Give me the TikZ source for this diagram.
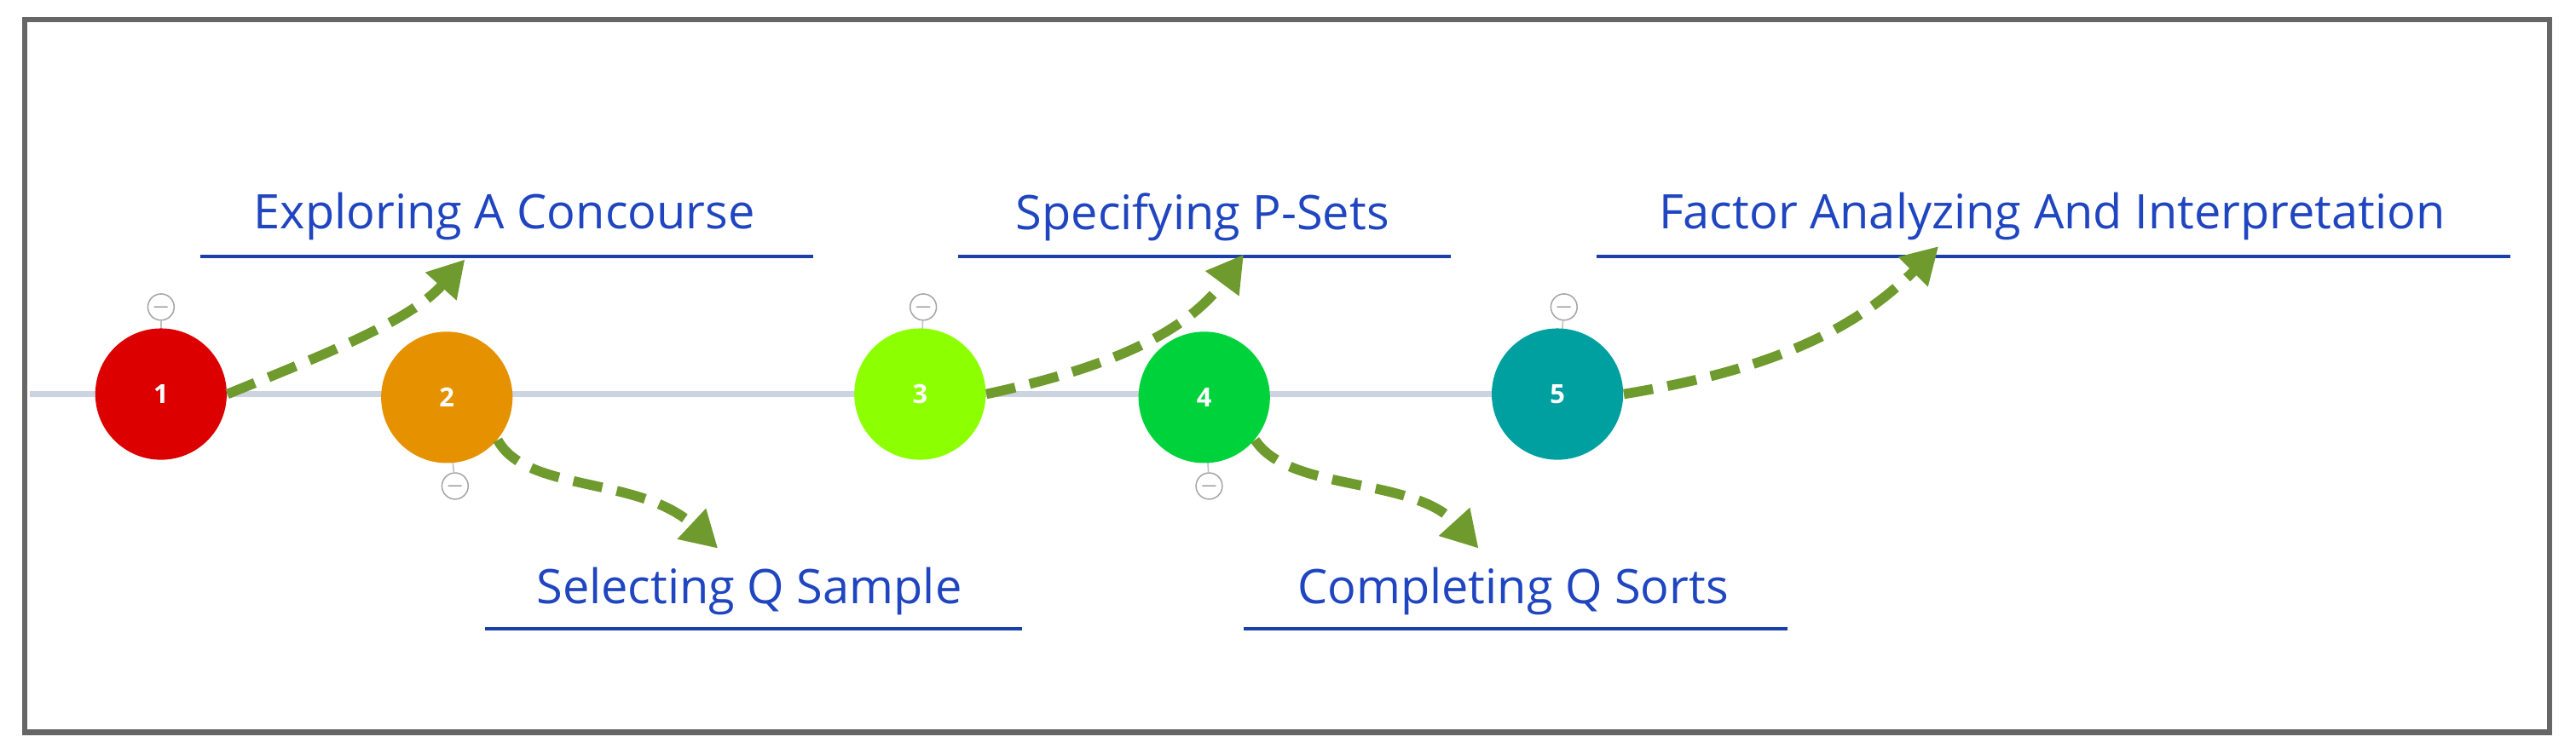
\documentclass[tikz,border=0pt]{standalone}
\usepackage{fontspec}
\setmainfont{Open Sans}
\usetikzlibrary{arrows.meta}
\definecolor{lblue}{HTML}{1F45C0}
\definecolor{ublue}{HTML}{1A3FA8}
\definecolor{arr}{HTML}{6F9A2E}
\definecolor{c1}{RGB}{220,0,0}
\definecolor{c2}{RGB}{230,145,0}
\definecolor{c3}{RGB}{140,255,0}
\definecolor{c4}{RGB}{0,210,60}
\definecolor{c5}{RGB}{0,160,160}
\definecolor{axis}{RGB}{205,212,225}
\begin{document}
\begin{tikzpicture}[x=0.5pt,y=-0.5pt,
  stepnode/.style={circle,minimum size=40pt,inner sep=0pt,text=white,font=\bfseries\fontsize{8}{9}\selectfont},
  mini/.style={circle,draw=gray!70,minimum size=8pt,inner sep=0pt,fill=white,font=\fontsize{6}{6}\selectfont,text=gray},
  lbl/.style={text=lblue,font=\fontsize{14.5}{16}\selectfont,inner sep=0pt},
  ul/.style={draw=ublue,line width=1pt},
  ar/.style={draw=arr,line width=3pt,dash pattern=on 9pt off 4.5pt,-{Triangle[length=11pt,width=12pt]}}]
\useasboundingbox (0,0) rectangle (1568,459);
\draw[gray!80!black,line width=1.6pt] (15,12) rectangle (1552,446);
\coordinate (ls) at (18,240); \coordinate (le) at (910,240);
\draw[axis,line width=2pt] (ls) -- (le);
\foreach \n/\x/\y/\m/\my in {1/98/240/98/187, 3/560/240/562/187, 5/948/240/952/187, 2/272/242/277/296, 4/733/242/736/296}{
  \node[mini] (m\n) at (\m,\my) {$-$};
  \draw[gray!50] (m\n) -- (\x,\y);
}
\node[stepnode,fill=c1] (n1) at (98,240) {1};
\node[stepnode,fill=c2] (n2) at (272,242) {2};
\node[stepnode,fill=c3] (n3) at (560,240) {3};
\node[stepnode,fill=c4] (n4) at (733,242) {4};
\node[stepnode,fill=c5] (n5) at (948,240) {5};
\node[lbl] (t1) at (307,132) {Exploring A Concourse};
\node[lbl] (t3) at (732,132) {Specifying P-Sets};
\node[lbl] (t5) at (1249,132) {Factor Analyzing And Interpretation};
\node[lbl] (t2) at (456,360) {Selecting Q Sample};
\node[lbl] (t4) at (921,360) {Completing Q Sorts};
\draw[ul] (122,156) -- (495,156);
\draw[ul] (583,156) -- (883,156);
\draw[ul] (972,156) -- (1528,156);
\draw[ul] (295,383) -- (622,383);
\draw[ul] (757,383) -- (1088,383);
\coordinate (a1) at (283,158); \coordinate (a2) at (437,334);
\coordinate (a3) at (757,155); \coordinate (a4) at (900,334);
\coordinate (a5) at (1180,150);
\draw[ar] (n1.east) .. controls (200,215) and (250,195) .. (a1);
\draw[ar] (n2.-40) .. controls (320,300) and (390,290) .. (a2);
\draw[ar] (n3.east) .. controls (670,225) and (720,205) .. (a3);
\draw[ar] (n4.-40) .. controls (785,300) and (860,290) .. (a4);
\draw[ar] (n5.east) .. controls (1080,225) and (1130,200) .. (a5);
\end{tikzpicture}
\end{document}
